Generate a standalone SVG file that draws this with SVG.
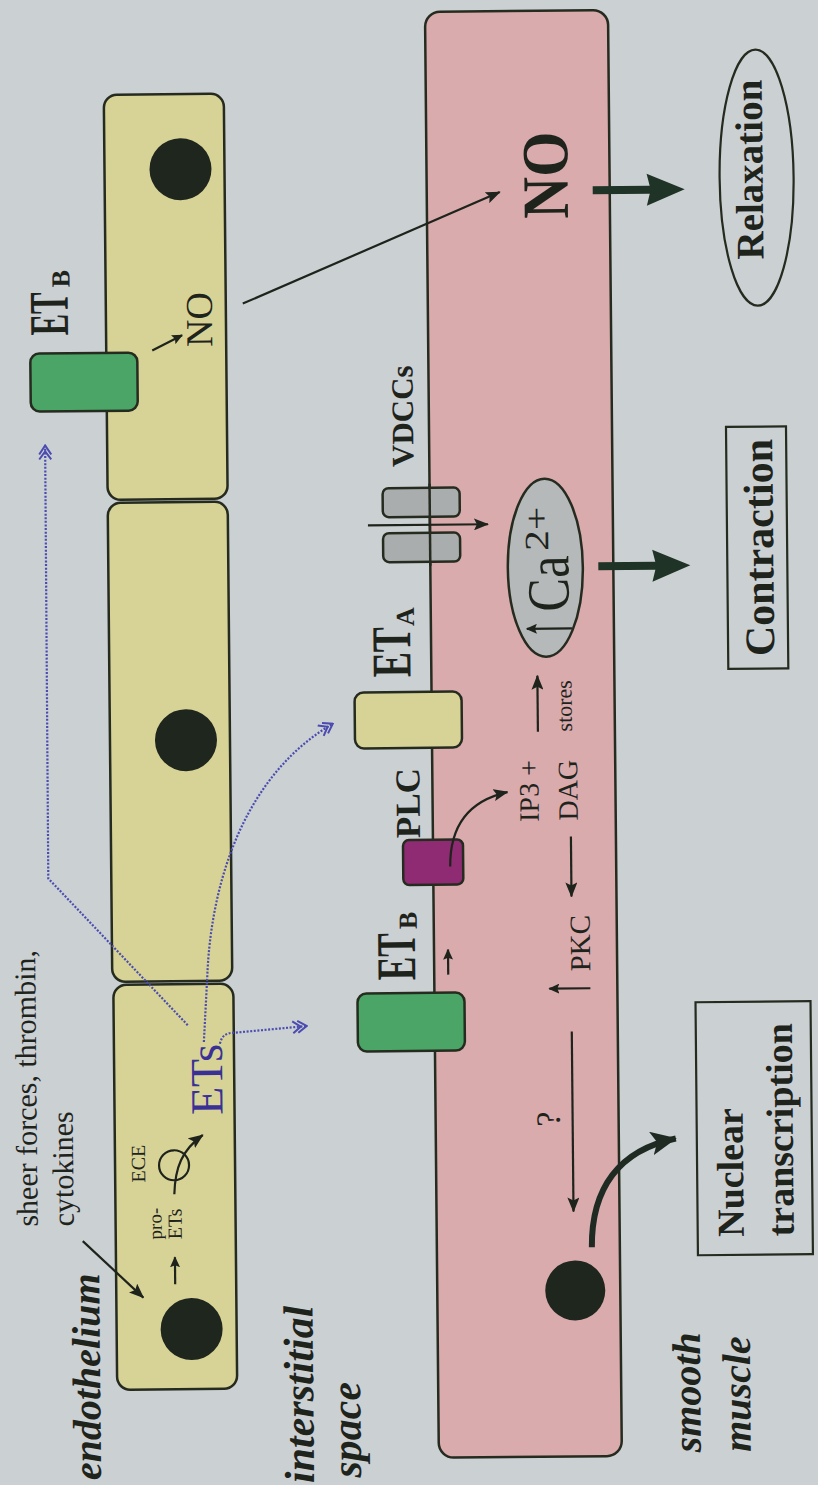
<svg xmlns="http://www.w3.org/2000/svg" width="818" height="1485" viewBox="0 0 818 1485">
<style>
.t{font-family:"Liberation Serif","Times New Roman",serif;fill:#1e231c}
.b{font-weight:bold}
.i{font-style:italic}
.blue{fill:#3a3196}
.cell{fill:#d7d396;stroke:#262b1f;stroke-width:2.5}
.sm{fill:#d9abad;stroke:#262b1f;stroke-width:2.5}
.nuc{fill:#1f261e}
.rec{stroke:#262b1f;stroke-width:2.5}
.ln{fill:none;stroke:#1e231c;stroke-width:2.2}
.dot{fill:none;stroke:#4b4bb0;stroke-width:2.2;stroke-dasharray:2 1.6}
.thick{fill:#1f3326}
</style>
<defs>
<marker id="ah" markerUnits="userSpaceOnUse" markerWidth="15" markerHeight="12" viewBox="0 0 15 12" refX="14" refY="6" orient="auto"><path d="M0,0 L15,6 L0,12 L3,6 z" fill="#1e231c"/></marker>
<marker id="as" markerUnits="userSpaceOnUse" markerWidth="11" markerHeight="10" viewBox="0 0 11 10" refX="10" refY="5" orient="auto"><path d="M0,0 L11,5 L0,10 L2,5 z" fill="#1e231c"/></marker>
<marker id="ahb" markerUnits="userSpaceOnUse" markerWidth="26" markerHeight="24" viewBox="0 0 26 24" refX="25" refY="12" orient="auto"><path d="M0,0 L26,12 L0,24 L6,12 z" fill="#1f2a22"/></marker>
<marker id="bh" markerUnits="userSpaceOnUse" markerWidth="16" markerHeight="14" viewBox="0 0 16 14" refX="15" refY="7" orient="auto"><path d="M1,1 L9,7 L1,13 M6,1 L15,7 L6,13" fill="none" stroke="#4b4bb0" stroke-width="2"/></marker>
</defs>
<rect width="818" height="1485" fill="#cbd0d3"/>
<g transform="rotate(-0.55 409 742)">

<g id="endothelial-cell-1"><rect class="cell" x="110" y="92" width="120" height="405" rx="13"/><circle class="nuc" cx="186" cy="167" r="31"/></g>
<g id="endothelial-cell-2"><rect class="cell" x="110" y="500" width="120" height="479" rx="13"/><circle class="nuc" cx="186" cy="738" r="31"/></g>
<g id="endothelial-cell-3"><rect class="cell" x="111" y="982" width="120" height="405" rx="13"/><circle class="nuc" cx="186" cy="1327" r="31"/></g>

<g id="smooth-muscle-cell"><rect class="sm" x="432" y="12" width="183" height="1446" rx="15"/><circle class="nuc" cx="570" cy="1292" r="30"/></g>

<g id="ETB-endothelial"><rect class="rec" x="34" y="350" width="107" height="58" rx="9" fill="#4aa566"/>
<text class="t b" transform="translate(72,332) rotate(-90)" font-size="56" textLength="43" lengthAdjust="spacingAndGlyphs">ET</text>
<text class="t b" transform="translate(74,284) rotate(-90)" font-size="26">B</text></g>

<g id="ETB-muscle"><rect class="rec" x="355" y="993" width="107" height="58" rx="9" fill="#4aa566"/>
<text class="t b" transform="translate(413,980) rotate(-90)" font-size="56" textLength="47" lengthAdjust="spacingAndGlyphs">ET</text>
<text class="t b" transform="translate(415,929) rotate(-90)" font-size="26">B</text></g>

<g id="PLC"><rect class="rec" x="402" y="840" width="60" height="45" rx="6" fill="#8f2b72"/>
<text class="t b" transform="translate(419,838) rotate(-90)" font-size="35">PLC</text></g>

<g id="ETA"><rect class="rec" x="355" y="692" width="107" height="56" rx="9" fill="#d7d396"/>
<text class="t b" transform="translate(411,677) rotate(-90)" font-size="56" textLength="50" lengthAdjust="spacingAndGlyphs">ET</text>
<text class="t b" transform="translate(415,626) rotate(-90)" font-size="26">A</text></g>

<g id="VDCCs"><rect class="rec" x="385" y="488" width="77" height="29" rx="6" fill="#a9adae"/>
<rect class="rec" x="385" y="533" width="77" height="29" rx="6" fill="#a9adae"/>
<line x1="432" y1="484" x2="432" y2="566" stroke="#262b1f" stroke-width="2.5"/>
<text class="t b" transform="translate(416,467) rotate(-90)" font-size="31">VDCCs</text></g>

<g id="Ca"><ellipse cx="547" cy="569" rx="37.5" ry="89" fill="#b5b9ba" stroke="#262b1f" stroke-width="2.5"/>
<text class="t" transform="translate(570,613) rotate(-90)" font-size="60" textLength="56" lengthAdjust="spacingAndGlyphs">Ca</text>
<text class="t" transform="translate(550,552) rotate(-90)" font-size="34" textLength="44" lengthAdjust="spacingAndGlyphs">2+</text></g>

<g id="NO-muscle"><text class="t b" transform="translate(573,220) rotate(-90)" font-size="66" textLength="87" lengthAdjust="spacingAndGlyphs">NO</text></g>
<g id="NO-endothelial"><text class="t" transform="translate(216,345) rotate(-90)" font-size="38">NO</text></g>

<g id="IP3-DAG"><text class="t" transform="translate(538,823) rotate(-90)" font-size="28">IP3 +</text>
<text class="t" transform="translate(577,822) rotate(-90)" font-size="28">DAG</text>
<text class="t" transform="translate(572,733) rotate(-90)" font-size="22">stores</text></g>

<g id="PKC"><text class="t" transform="translate(588,973) rotate(-90)" font-size="29">PKC</text>
<text class="t" transform="translate(556,1128) rotate(-90)" font-size="34">?</text></g>

<g id="relaxation"><ellipse cx="762" cy="181" rx="37" ry="128" fill="none" stroke="#262b1f" stroke-width="2.2"/>
<text class="t b" transform="translate(768,173) rotate(-90)" font-size="39" text-anchor="middle">Relaxation</text></g>

<g id="contraction"><rect x="729" y="430" width="60" height="242" fill="none" stroke="#262b1f" stroke-width="2.2"/>
<text class="t b" transform="translate(775,551) rotate(-90)" font-size="42" text-anchor="middle">Contraction</text></g>

<g id="nuclear-transcription"><rect x="693" y="1005" width="115" height="253" fill="none" stroke="#262b1f" stroke-width="2.2"/>
<text class="t b" transform="translate(739,1240) rotate(-90)" font-size="38">Nuclear</text>
<text class="t b" transform="translate(789,1240) rotate(-90)" font-size="38">transcription</text></g>

<g id="ECE"><circle cx="170" cy="1163" r="15" fill="none" stroke="#1e231c" stroke-width="2.2"/>
<text class="t" transform="translate(141,1180) rotate(-90)" font-size="20">ECE</text>
<text class="t" transform="translate(157,1237) rotate(-90)" font-size="19">pro-</text>
<text class="t" transform="translate(177,1237) rotate(-90)" font-size="20">ETs</text></g>

<g id="ETs"><text class="t blue" transform="translate(219,1113) rotate(-90)" font-size="46">ETs</text></g>

<g id="labels">
<text class="t b i" transform="translate(94,1477) rotate(-90)" font-size="40">endothelium</text>
<text class="t" transform="translate(33,1223) rotate(-90)" font-size="30">sheer forces, thrombin,</text>
<text class="t" transform="translate(69,1223) rotate(-90)" font-size="30">cytokines</text>
<text class="t b i" transform="translate(307,1482) rotate(-90)" font-size="42">interstitial</text>
<text class="t b i" transform="translate(354,1477) rotate(-90)" font-size="42">space</text>
<text class="t b i" transform="translate(694,1455) rotate(-90)" font-size="40">smooth</text>
<text class="t b i" transform="translate(744,1455) rotate(-90)" font-size="40">muscle</text>
</g>

<g id="connectors">
<path class="ln" d="M78,1238 L138,1295" marker-end="url(#ah)"/>
<path class="ln" d="M170,1282 L170,1255" marker-end="url(#as)"/>
<path class="ln" d="M170,1192 C171,1165 178,1148 199,1133" marker-end="url(#ah)"/>
<path class="dot" d="M185,1023 L47,875 L48,442" marker-end="url(#bh)"/>
<path class="dot" d="M201,1040 L205,975 C210,870 250,770 333,723" marker-end="url(#bh)"/>
<path class="dot" d="M217,1042 C219,1034 223,1031 232,1031 L304,1025" marker-end="url(#bh)"/>
<path class="ln" d="M156,348 L186,333" marker-end="url(#as)"/>
<path class="ln" d="M247,302 L505,193" marker-end="url(#ah)"/>
<path class="ln" d="M446,975 L446,950" marker-end="url(#as)"/>
<path class="ln" d="M449,867 C449,820 474,800 507,793" marker-end="url(#ah)"/>
<path class="ln" d="M538,733 L538,677" marker-end="url(#ah)"/>
<path class="ln" d="M570,838 L570,898" marker-end="url(#ah)"/>
<path class="ln" d="M588,990 L547,990" marker-end="url(#as)"/>
<path class="ln" d="M569,1033 L569,1213" marker-end="url(#ah)"/>
<path class="ln" d="M370,525 L490,525" marker-end="url(#ah)"/>
<path class="ln" d="M573,630 L528,630" marker-end="url(#as)"/>
<path d="M587,1249 C587,1190 615,1152 672,1141" fill="none" stroke="#1f2a22" stroke-width="6" marker-end="url(#ahb)"/>
<polygon class="thick" points="598,188 655,188 652,176 690,192 652,208 655,196 598,196"/>
<polygon class="thick" points="600,564 657,564 654,552 692,568 654,584 657,572 600,572"/>
</g>
</g>
</svg>
